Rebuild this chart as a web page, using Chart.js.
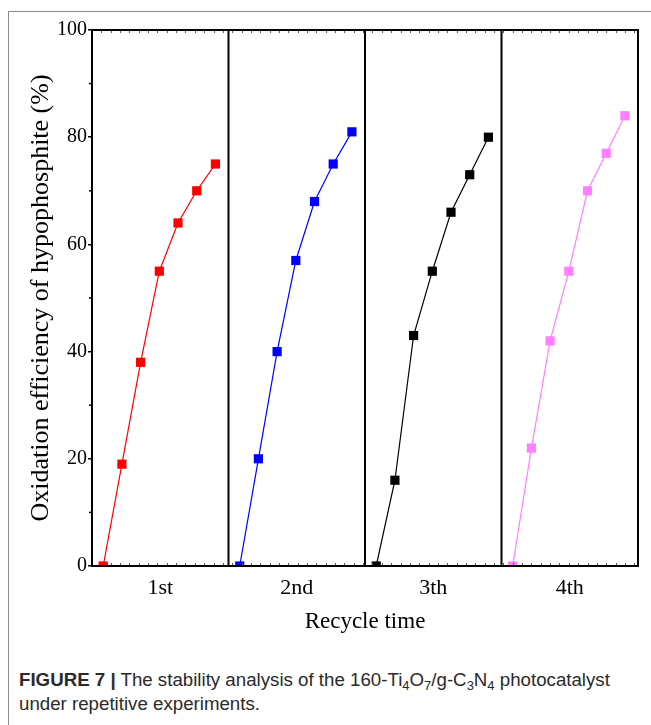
<!DOCTYPE html>
<html lang="en">
<head>
    <meta charset="UTF-8">
    <title>Recycle stability</title>
    <script src="https://cdn.jsdelivr.net/npm/chart.js"></script>
    <style>
        body { margin: 0; background: #fff; }
        #frame {
            position: absolute; left: 8px; top: 11px; width: 700px; height: 800px;
            border-left: 1.5px solid #8a8a8a; border-top: 1.5px solid #8a8a8a;
        }
        #chart { position: absolute; left: 0; top: 0; }
        #caption {
            position: absolute; left: 19px; top: 668px;
            font-family: "Liberation Sans", Arial, sans-serif; font-size: 18.7px;
            line-height: 24px; color: #2a2a2a; white-space: nowrap;
        }
        #caption sub { font-size: 13px; vertical-align: -4px; line-height: 0; }
    </style>
</head>
<body>
    <div id="frame"></div>
    <canvas id="chart" width="651" height="640"></canvas>
    <div id="caption"><b>FIGURE 7 |</b> The stability analysis of the 160-Ti<sub>4</sub>O<sub>7</sub>/g-C<sub>3</sub>N<sub>4</sub> photocatalyst<br>under repetitive experiments.</div>

    <script>
        // recycle runs and the sampling steps inside each run
        const cycles = ['1st', '2nd', '3th', '4th'];
        const steps = [0, 1, 2, 3, 4, 5, 6];
        const run1 = [0, 19, 38, 55, 64, 70, 75];
        const run2 = [0, 20, 40, 57, 68, 75, 81];
        const run3 = [0, 16, 43, 55, 66, 73, 80];
        const run4 = [0, 22, 42, 55, 70, 77, 84];
        const yTicks = [0, 20, 40, 60, 80, 100];
        const colors = ['#ff0000', '#0000ff', '#000000', '#ff80ff'];

        // each run sits in its own panel on a shared x axis
        const panelWidth = 7.3;
        const firstOffset = 0.6;
        const xMax = panelWidth * cycles.length;

        const runs = [run1, run2, run3, run4];
        const datasets = runs.map((vals, p) => ({
            label: cycles[p],
            data: vals.map((v, i) => ({ x: p * panelWidth + firstOffset + steps[i], y: v })),
            borderColor: colors[p],
            backgroundColor: colors[p],
            borderWidth: 1.2,
            pointStyle: 'rect',
            pointRadius: 6.5,
            pointBorderWidth: 0,
            tension: 0
        }));

        const serif = '"Liberation Serif", "Times New Roman", serif';

        const panelFrame = {
            id: 'panelFrame',
            afterDraw(chart) {
                const { ctx, chartArea: a, scales } = chart;
                const xs = scales.x, ys = scales.y;
                ctx.save();

                // small inward ticks along top and bottom
                ctx.lineWidth = 1;
                ctx.strokeStyle = '#555';
                for (let v = 0.5; v < xMax; v += 0.5) {
                    const px = Math.round(xs.getPixelForValue(v)) + 0.5;
                    ctx.beginPath();
                    ctx.moveTo(px, a.top); ctx.lineTo(px, a.top + 3);
                    ctx.moveTo(px, a.bottom); ctx.lineTo(px, a.bottom - 3);
                    ctx.stroke();
                }

                // minor ticks on the y axis
                ctx.strokeStyle = '#000';
                ctx.lineWidth = 1.5;
                for (let v = 10; v < 100; v += 20) {
                    const py = ys.getPixelForValue(v);
                    ctx.beginPath();
                    ctx.moveTo(a.left - 3, py); ctx.lineTo(a.left, py);
                    ctx.stroke();
                }

                // panel dividers and outer box
                ctx.lineWidth = 2;
                for (let p = 1; p < cycles.length; p++) {
                    const px = xs.getPixelForValue(p * panelWidth);
                    ctx.beginPath();
                    ctx.moveTo(px, a.top); ctx.lineTo(px, a.bottom);
                    ctx.stroke();
                }
                ctx.strokeRect(a.left, a.top, a.right - a.left, a.bottom - a.top);
                ctx.restore();
            }
        };

        new Chart(document.getElementById('chart'), {
            type: 'line',
            data: { datasets },
            plugins: [panelFrame],
            options: {
                responsive: false,
                animation: false,
                devicePixelRatio: 1,
                layout: { padding: { left: 0, top: 30, right: 13, bottom: 0 } },
                plugins: { legend: { display: false }, tooltip: { enabled: false } },
                scales: {
                    x: {
                        type: 'linear',
                        min: 0,
                        max: xMax,
                        afterBuildTicks: (scale) => {
                            scale.ticks = cycles.map((c, p) => ({ value: p * panelWidth + panelWidth / 2 }));
                        },
                        afterFit: (scale) => { scale.height = 74; },
                        grid: { display: false },
                        border: { display: false },
                        ticks: {
                            autoSkip: false,
                            maxRotation: 0,
                            padding: 1,
                            color: '#000',
                            font: { family: serif, size: 22 },
                            callback: (v, i) => cycles[i]
                        },
                        title: {
                            display: true,
                            text: 'Recycle time',
                            color: '#000',
                            font: { family: serif, size: 23 },
                            padding: { top: 0, bottom: 4 }
                        }
                    },
                    y: {
                        min: 0,
                        max: 100,
                        afterBuildTicks: (scale) => {
                            scale.ticks = yTicks.map(v => ({ value: v }));
                        },
                        afterFit: (scale) => { scale.width = 92; },
                        grid: { drawOnChartArea: false, tickLength: 4, color: '#000', lineWidth: 1.5 },
                        border: { display: false },
                        ticks: {
                            padding: 1,
                            color: '#000',
                            font: { family: serif, size: 20 }
                        },
                        title: {
                            display: true,
                            text: 'Oxidation efficiency of hypophosphite (%)',
                            color: '#000',
                            font: { family: serif, size: 26 },
                            padding: { top: 26, bottom: 0 }
                        }
                    }
                }
            }
        });
    </script>
</body>
</html>
